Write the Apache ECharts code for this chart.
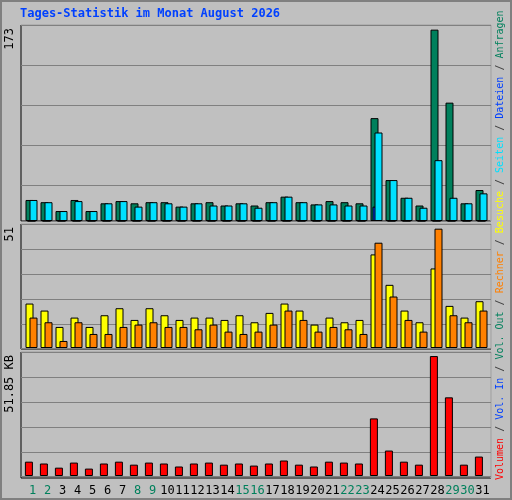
<!DOCTYPE html>
<html><head><meta charset="utf-8">
<script src="https://cdn.jsdelivr.net/npm/echarts@6/dist/echarts.min.js"></script>
<style>html,body{margin:0;padding:0;background:#c0c0c0}#c{width:512px;height:500px}</style>
</head><body><div id="c"></div>
<script>
const days = Array.from({length:31},(_,i)=>String(i+1));
const weekend = [1,2,8,9,15,16,22,23,29,30];
const anfragen = [19,17,9,19,9,16,18,16,17,17,13,16,17,14,16,14,17,22,17,15,18,17,16,93,37,21,14,173,107,16,28];
const dateien  = [0,0,0,0,0,0,0,0,0,0,0,0,0,0,0,0,0,0,0,0,0,0,0,13,0,0,0,0,0,0,0];
const seiten   = [19,17,9,18,9,16,18,13,17,16,13,16,14,14,16,12,17,22,17,15,15,14,14,80,37,21,12,55,21,16,25];
const besuche  = [19,16,9,13,9,14,17,12,17,14,12,13,13,12,14,11,15,19,16,10,13,11,12,40,27,16,11,34,18,13,20];
const rechner  = [13,11,3,11,6,6,9,10,11,9,9,8,10,7,6,7,10,16,12,7,9,8,6,45,22,12,7,51,14,11,16];
const volumenKB = [6.2,5.4,3.6,5.8,3.2,5.4,6.2,4.9,5.8,5.4,4.1,5.4,5.8,4.9,5.4,4.5,5.4,6.7,4.9,4.1,6.2,5.8,5.4,24.9,11,6.2,4.9,51.85,34,4.9,8.4];
const maxLabels = ['173','51','51.85 KB'];

const G='#00805c', B='#0040ff', C='#00e0ff', Y='#ffff00', O='#ff8000', R='#ff0000';
const mono='DejaVu Sans Mono';
const chart = echarts.init(document.getElementById('c'));
const bs = {borderColor:'#000',borderWidth:1};
const panels=[[21,25,470,196],[21,224,470,125],[21,352,470,126]];
const gfx=[
 {type:'rect',shape:{x:1,y:1,width:510,height:498},style:{fill:'#c0c0c0',stroke:'#808080',lineWidth:2},z:-10},
 ...panels.map(p=>({type:'rect',shape:{x:p[0],y:p[1],width:p[2],height:p[3]},style:{fill:'#c0c0c0',stroke:'#000',lineWidth:1},z:-5})),
 ...panels.map(p=>({type:'line',shape:{x1:p[0],y1:p[1],x2:p[0]+p[2],y2:p[1]},style:{stroke:'#fff',lineWidth:1},z:-4})),
 ...panels.map(p=>({type:'line',shape:{x1:p[0]+p[2],y1:p[1],x2:p[0]+p[2],y2:p[1]+p[3]},style:{stroke:'#fff',lineWidth:1},z:-4})),
 {type:'text',x:20,y:8,style:{text:'Tages-Statistik im Monat August 2026',fill:B,font:'bold 12px '+mono}},
 {type:'text',x:10,y:28,rotation:Math.PI/2,style:{text:maxLabels[0],fill:'#000',font:'12px '+mono,align:'right',verticalAlign:'middle'}},
 {type:'text',x:10,y:227,rotation:Math.PI/2,style:{text:maxLabels[1],fill:'#000',font:'12px '+mono,align:'right',verticalAlign:'middle'}},
 {type:'text',x:10,y:355,rotation:Math.PI/2,style:{text:maxLabels[2],fill:'#000',font:'12px '+mono,align:'right',verticalAlign:'middle'}},
 {type:'text',x:500,y:480,rotation:Math.PI/2,style:{
   text:'{r|Volumen}{s| / }{b|Vol. In}{s| / }{g|Vol. Out}{s| / }{o|Rechner}{s| / }{y|Besuche}{s| / }{c|Seiten}{s| / }{b|Dateien}{s| / }{g|Anfragen}',
   font:'10px '+mono,align:'left',verticalAlign:'middle',
   rich:{r:{fill:R,font:'10px '+mono},b:{fill:B,font:'10px '+mono},g:{fill:G,font:'10px '+mono},o:{fill:O,font:'10px '+mono},y:{fill:Y,font:'10px '+mono},c:{fill:C,font:'10px '+mono},s:{fill:'#404040',font:'10px '+mono}}}}
];
const xa=(i,show)=>({type:'category',gridIndex:i,data:days,show:show,axisLine:{show:false},axisTick:{show:false},
  axisLabel:{show:show,margin:9,fontFamily:mono,fontSize:12,interval:0,color:(v)=>weekend.includes(+v)?G:'#000'}});
const ya=(i,max)=>({type:'value',gridIndex:i,min:0,max:max,show:false,splitLine:{show:false}});
const yg=(i,max,intv)=>({type:'value',gridIndex:i,inverse:true,min:0,max:max,interval:intv,axisLabel:{show:false},axisLine:{show:false},axisTick:{show:false},splitLine:{show:true,lineStyle:{color:'#808080',width:1}}});
chart.setOption({
 animation:false,
 graphic:gfx,
 grid:[
  {left:21,top:25,width:470,height:196},
  {left:21,top:224,width:470,height:124},
  {left:21,top:352,width:470,height:124},
  {left:24,top:25,width:465,height:196},
  {left:24,top:224,width:465,height:124},
  {left:25,top:352,width:465,height:124}
 ],
 xAxis:[xa(0,false),xa(1,false),xa(2,false),xa(3,false),xa(4,false),xa(5,true)],
 yAxis:[yg(0,196,40),yg(1,124,25),yg(2,124,25),ya(3,177.2),ya(4,53),ya(5,53.6)],
 series:[
  {type:'bar',xAxisIndex:3,yAxisIndex:3,data:anfragen,barWidth:8,barGap:'-75%',itemStyle:{color:G,...bs}},
  {type:'bar',xAxisIndex:3,yAxisIndex:3,data:dateien,barWidth:8,barGap:'-75%',itemStyle:{color:B,...bs}},
  {type:'bar',xAxisIndex:3,yAxisIndex:3,data:seiten,barWidth:8,barGap:'-75%',itemStyle:{color:C,...bs}},
  {type:'bar',xAxisIndex:4,yAxisIndex:4,data:besuche,barWidth:8,barGap:'-50%',itemStyle:{color:Y,...bs}},
  {type:'bar',xAxisIndex:4,yAxisIndex:4,data:rechner,barWidth:8,barGap:'-50%',itemStyle:{color:O,...bs}},
  {type:'bar',xAxisIndex:5,yAxisIndex:5,data:volumenKB,barWidth:8,barGap:'-10%',itemStyle:{color:R,...bs}},
  {type:'bar',xAxisIndex:5,yAxisIndex:5,data:volumenKB.map(()=>0),barWidth:8,barGap:'-10%',itemStyle:{color:'transparent',borderWidth:0}}
 ]
});
</script></body></html>
